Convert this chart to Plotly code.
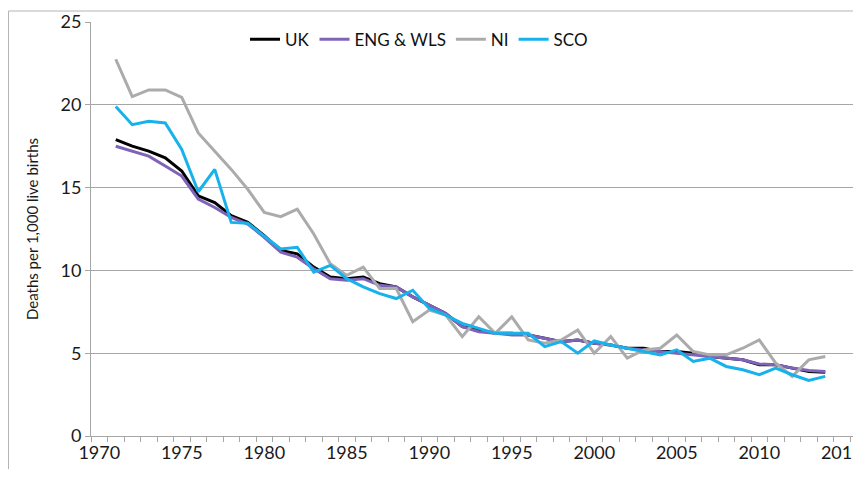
import plotly.graph_objects as go

anos = list(range(1971, 2015))

uk = [17.9, 17.5, 17.2, 16.8, 16.0, 14.5, 14.1, 13.3, 12.9, 12.1,
      11.2, 11.0, 10.2, 9.6, 9.5, 9.6, 9.2, 9.0, 8.4, 7.9,
      7.4, 6.6, 6.4, 6.2, 6.2, 6.1, 5.9, 5.7, 5.8, 5.6,
      5.5, 5.3, 5.3, 5.1, 5.1, 5.0, 4.8, 4.7, 4.6, 4.3,
      4.3, 4.1, 3.9, 3.85]

eng_wls = [17.5, 17.2, 16.9, 16.3, 15.7, 14.3, 13.8, 13.2, 12.8, 12.0,
           11.1, 10.8, 10.1, 9.5, 9.4, 9.5, 9.1, 9.0, 8.4, 7.9,
           7.4, 6.6, 6.3, 6.2, 6.1, 6.1, 5.9, 5.7, 5.8, 5.6,
           5.5, 5.3, 5.2, 5.1, 5.0, 4.9, 4.8, 4.7, 4.6, 4.35,
           4.3, 4.1, 3.95, 3.9]

ni = [22.75, 20.5, 20.9, 20.9, 20.45, 18.3, 17.2, 16.1, 14.9, 13.5,
      13.25, 13.7, 12.2, 10.4, 9.7, 10.2, 8.9, 8.9, 6.9, 7.6,
      7.3, 6.0, 7.2, 6.2, 7.2, 5.8, 5.6, 5.8, 6.4, 5.0,
      6.0, 4.7, 5.2, 5.3, 6.1, 5.1, 4.9, 4.9, 5.3, 5.8,
      4.4, 3.6, 4.6, 4.8]

sco = [19.9, 18.8, 19.0, 18.9, 17.3, 14.75, 16.1, 12.9, 12.85, 12.1,
       11.3, 11.4, 9.9, 10.3, 9.5, 9.0, 8.6, 8.3, 8.8, 7.7,
       7.3, 6.8, 6.5, 6.2, 6.2, 6.2, 5.4, 5.7, 5.0, 5.75,
       5.5, 5.3, 5.1, 4.9, 5.2, 4.5, 4.7, 4.2, 4.0, 3.7,
       4.1, 3.7, 3.35, 3.6]

series = [
    ('UK', uk, '#000000'),
    ('ENG & WLS', eng_wls, '#7F63B8'),
    ('NI', ni, '#ABABAB'),
    ('SCO', sco, '#17B2EC'),
]

rotulos_x = [1970, 1975, 1980, 1985, 1990, 1995, 2000, 2005, 2010, 2015]
rotulos_y = [0, 5, 10, 15, 20, 25]

fonte = 'Lato'
cinza = '#A6A6A6'

fig = go.Figure()

for nome, valores, cor in series:
    fig.add_trace(go.Scatter(
        x=anos,
        y=valores,
        mode='lines',
        name=nome,
        line=dict(color=cor, width=3),
    ))

# o body da página tem 8px de margem: a figura é menor para não gerar barras de rolagem
# a área do gráfico vai até a borda para o rótulo 2015 não ser cortado
fig.update_layout(
    width=853,
    height=462,
    margin=dict(l=83, r=0, t=14, b=34, autoexpand=False),
    paper_bgcolor='white',
    plot_bgcolor='white',
    font=dict(family=fonte, size=17, color='#1A1A1A'),
    showlegend=True,
    legend=dict(
        orientation='h',
        x=0.2, xanchor='left',
        y=0.957, yanchor='middle',
        bgcolor='rgba(0,0,0,0)',
        font=dict(size=17, color='#111111'),
        itemwidth=30,
        tracegroupgap=0,
    ),
    xaxis=dict(
        range=[1969.5, 1969.5 + 770 / 16.5],
        tickvals=rotulos_x,
        ticks='',
        automargin=False,
        ticklabeloverflow='allow',
        showgrid=False,
        showline=True,
        linecolor=cinza,
        linewidth=1,
        zeroline=False,
        minor=dict(
            tickvals=[a + 0.5 for a in range(1969, 2016)],
            ticks='outside',
            ticklen=5,
            tickcolor=cinza,
            showgrid=False,
        ),
        tickfont=dict(size=18),
    ),
    yaxis=dict(
        range=[0, 25],
        tickvals=rotulos_y,
        ticks='outside',
        ticklen=5,
        tickcolor=cinza,
        automargin=False,
        showgrid=True,
        gridcolor=cinza,
        gridwidth=1,
        showline=True,
        linecolor=cinza,
        zeroline=False,
        title=dict(text='Deaths per 1,000 live births', standoff=18,
                   font=dict(size=15)),
        tickfont=dict(size=18),
    ),
)

# moldura externa (linha de cima e da esquerda)
topo = 1 + 11 / 414
esq = -82.5 / 770
fig.add_shape(type='line', xref='paper', yref='paper', layer='above',
              x0=esq, x1=1.0, y0=topo, y1=topo,
              line=dict(color='#B4B4B4', width=1))
fig.add_shape(type='line', xref='paper', yref='paper', layer='above',
              x0=esq, x1=esq, y0=-0.08, y1=topo,
              line=dict(color='#B4B4B4', width=1))

fig.write_html("out.html")
